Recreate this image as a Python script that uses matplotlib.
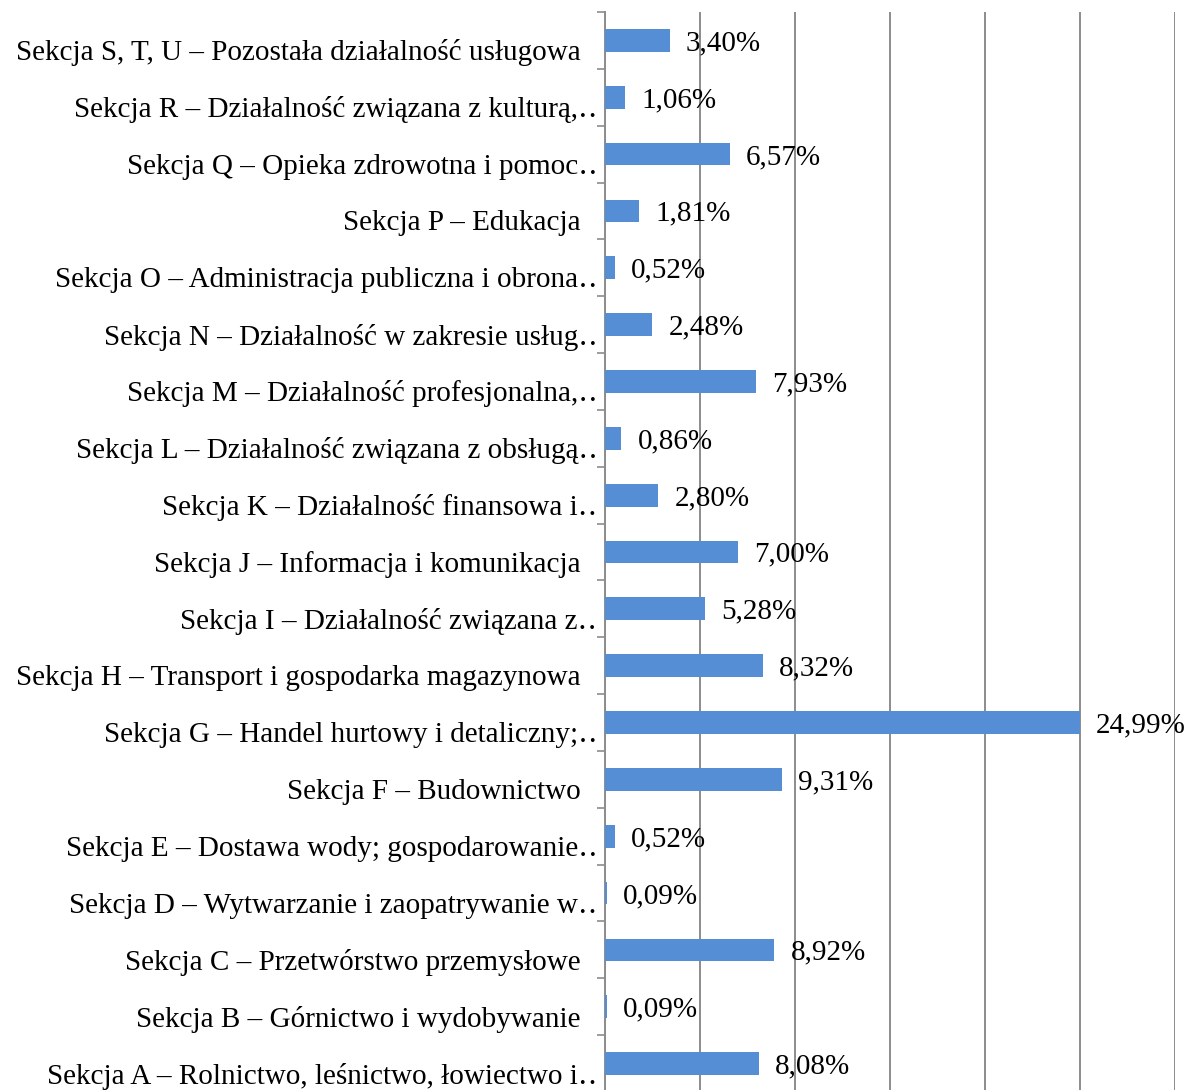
import matplotlib.pyplot as plt
import numpy as np

categories = [
    "Sekcja A – Rolnictwo, leśnictwo, łowiectwo i‥",
    "Sekcja B – Górnictwo i wydobywanie",
    "Sekcja C – Przetwórstwo przemysłowe",
    "Sekcja D – Wytwarzanie i zaopatrywanie w‥",
    "Sekcja E – Dostawa wody; gospodarowanie‥",
    "Sekcja F – Budownictwo",
    "Sekcja G – Handel hurtowy i detaliczny;‥",
    "Sekcja H – Transport i gospodarka magazynowa",
    "Sekcja I – Działalność związana z‥",
    "Sekcja J – Informacja i komunikacja",
    "Sekcja K – Działalność finansowa i‥",
    "Sekcja L – Działalność związana z obsługą‥",
    "Sekcja M – Działalność profesjonalna,‥",
    "Sekcja N – Działalność w zakresie usług‥",
    "Sekcja O – Administracja publiczna i obrona‥",
    "Sekcja P – Edukacja",
    "Sekcja Q – Opieka zdrowotna i pomoc‥",
    "Sekcja R – Działalność związana z kulturą,‥",
    "Sekcja S, T, U – Pozostała działalność usługowa",
]
values = [8.08, 0.09, 8.92, 0.09, 0.52, 9.31, 24.99, 8.32, 5.28, 7.00,
          2.80, 0.86, 7.93, 2.48, 0.52, 1.81, 6.57, 1.06, 3.40]

plt.rcParams['font.family'] = ['Liberation Serif', 'DejaVu Serif']

fig = plt.figure(figsize=(11.87, 10.90), dpi=100)
ax = fig.add_axes([605 / 1187, -2 / 1090, 570 / 1187, 1080 / 1090])

y = np.arange(len(categories))
ax.barh(y, values, height=0.4, color='#558ED5', zorder=3)

# value labels to the right of each bar
for yi, v in zip(y, values):
    ax.text(v + 0.85, yi - 0.05, f"{v:.2f}%".replace('.', ','),
            va='center', ha='left', fontsize=21, zorder=4)

ax.set_xlim(0, 30)
ax.set_ylim(-0.5, len(categories) - 0.5)
ax.set_xticks(np.arange(0, 31, 5))
ax.set_xticklabels([])
ax.tick_params(axis='x', length=0)
ax.grid(axis='x', color='#8c8c8c', linewidth=1.4, zorder=0)

# ticks sit between categories, labels drawn separately
ax.set_yticks(np.arange(-0.5, len(categories), 1.0))
ax.set_yticklabels([])
ax.tick_params(axis='y', length=6, width=1.2, color='#8c8c8c', direction='out')
for yi, lab in zip(y, categories):
    # truncated labels run closer to the axis
    xpos = -0.4 if lab.endswith('‥') else -1.3
    ax.text(xpos, yi - 0.22, lab, ha='right', va='center', fontsize=21)

for s in ['top', 'right', 'bottom']:
    ax.spines[s].set_visible(False)
ax.spines['left'].set_color('#8c8c8c')
ax.spines['left'].set_linewidth(1.4)

fig.savefig('out.png', dpi=100)
